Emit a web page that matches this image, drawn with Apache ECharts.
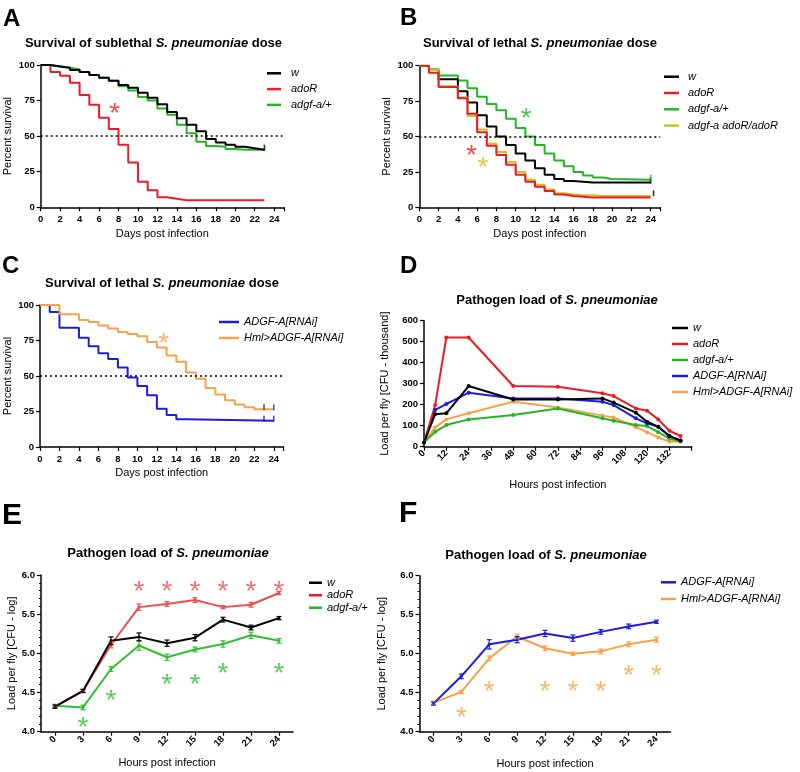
<!DOCTYPE html>
<html><head><meta charset="utf-8">
<script src="https://cdn.jsdelivr.net/npm/echarts/dist/echarts.min.js"></script>
<style>html,body{margin:0;padding:0;background:#fff}#c{width:800px;height:772px}</style>
</head><body><div id="c"></div><script>
// ---------- Panel A: survival, sublethal dose ----------
const aDays  = [0,1,2,3,4,5,6,7,8,9,10,11,12,13,14,15,16,17,18,19,20,21,22,23];
const aW     = [100,99,98,96.5,95,93,91,89,86,84,80.5,77,72.5,67,62.5,58,53.5,48,45.5,44,42.5,41.5,40.5,40.5];
const aAdoR  = [100,95,92.5,87.5,79,72,63,55,44,31.5,18,12,7,6,5,5,5,5,5,5,5,5,5,5];
const aAdgf  = [100,99,98,97,95,93,91,89,85,82,77.5,75,69.5,65,58,52,46,43,42.5,41,40.5,40.5,40.5,40.5];
const aStarRed = [[7.6, 70]];
const aCensorW = [[23, 40.5]];
// ---------- Panel B: survival, lethal dose ----------
const bDays  = [0,1,2,4,5,6,7,8,9,10,11,12,13,14,15,16,17,18,19,20,24];
const bW     = [100,97,90.5,82,74,65,57,50,44,38,33,27.5,23,20,18.5,18,17.5,17.5,17.5,17.5,17.5];
const bAdoR  = [100,95,85,77,66,53,43.5,37,30,23,18,14.5,11.5,9,8,7.5,7,7,7,7,7];
const bAdgf  = [100,97.5,93,89.5,84,78,73,68.5,62.5,56,50,44,38,33,29,25,22.5,21,20,19.5,19.5];
const bDouble= [100,97,85.5,77.5,64.5,55,45,39,32,25,19.5,16,12.5,10,9,8.5,8.5,8,8,8,8];
const bStarGreen = [[11.1, 66.4]];
const bStarRed = [[5.4, 40.5]];
const bStarYellow = [[6.6, 32.2]];
const bCensorW = [[24, 17.5]];
const bCensorGreen = [[24, 19.5]];
const bCensorYellow = [[24.3, 8.5]];
// ---------- Panel C: survival, RNAi ----------
const cDaysBlue = [0,1,2,4,5,6,7,8,9,10,11,12,13,14,15,24];
const cBlue     = [100,95,84,77,71,66,62,56,49,43,36.5,27,22.5,19.5,18.5,18.5];
const cDaysOr   = [0,2,4,5,6,7,8,9,10,11,12,13,14,15,16,17,18,19,20,21,22,24];
const cOrange   = [100,93.5,89.5,88,85.5,83.5,81,79.5,78,74,70,64.5,60,52.5,48,41.5,37,33,30,28,26.5,26.5];
const cStarOrange = [[12.7, 77]];
const cCensorBlue = [[23, 18.5], [24, 18.5]];
const cCensorOr = [[23, 26.5], [24, 26.5]];
// ---------- Panel D: pathogen load (thousand CFU) ----------
const dHours = [0,6,12,24,48,72,96,102,114,120,126,132,138];
const dW     = [20,155,159,289,225,225,230,210,162,119,95,51,29];
const dAdoR  = [20,198,520,520,289,286,254,241,182,171,130,76,51];
const dAdgf  = [20,71,103,130,151,182,135,124,103,98,69,38,26];
const dADGF  = [20,175,203,257,230,230,214,198,135,111,95,51,30];
const dHml   = [20,92,130,159,214,187,148,139,93,69,44,25,24];
// ---------- Panel E: pathogen load (log) ----------
const eHours = ['0','3','6','9','12','15','18','21','24'];
const eW     = [4.32,4.52,5.16,5.21,5.13,5.20,5.43,5.33,5.45];
const eWErr  = [0.02,0.02,0.05,0.05,0.04,0.04,0.03,0.03,0.02];
const eAdoR  = [4.32,4.52,5.11,5.59,5.63,5.68,5.59,5.62,5.77];
const eAdoRErr=[0.02,0.02,0.04,0.04,0.03,0.03,0.02,0.03,0.02];
const eAdgf  = [4.33,4.31,4.80,5.10,4.95,5.05,5.12,5.23,5.16];
const eAdgfErr=[0.02,0.03,0.03,0.06,0.04,0.03,0.04,0.04,0.03];
const eStarRed   = [['9',5.86],['12',5.86],['15',5.86],['18',5.86],['21',5.86],['24',5.86]];
const eStarGreen = [['3',4.13],['6',4.47],['12',4.67],['15',4.67],['18',4.82],['24',4.82]];
// ---------- Panel F: pathogen load (log), RNAi ----------
const fHours = ['0','3','6','9','12','15','18','21','24'];
const fBlue  = [4.36,4.71,5.12,5.18,5.26,5.20,5.28,5.35,5.41];
const fBlueErr=[0.02,0.03,0.06,0.04,0.04,0.04,0.03,0.03,0.02];
const fOr    = [4.37,4.51,4.94,5.22,5.07,5.00,5.03,5.12,5.18];
const fOrErr = [0.02,0.02,0.03,0.03,0.03,0.02,0.03,0.03,0.03];
const fStarOrange = [['3',4.26],['6',4.59],['12',4.59],['15',4.59],['18',4.59],['21',4.79],['24',4.79]];

const FF = "'Liberation Sans', Arial, Helvetica, sans-serif";
const C = {black:'#000000', red:'#ed1c24', green:'#25b525', yellow:'#c8c228', blue:'#1c1ce0', orange:'#f5a34a',
           redE:'#e94f4f', greenE:'#30c030'};

const zip = (xs, ys) => xs.map((x, i) => [x, ys[i]]);

function axisCommon(extra) {
  return Object.assign({
    axisLine: {show: true, onZero: false, lineStyle: {color: '#000', width: 1.5}},
    axisTick: {show: true, length: 4, lineStyle: {color: '#000', width: 1.2}},
    axisLabel: {fontFamily: FF, fontSize: 9.5, fontWeight: 'bold', color: '#000', margin: 6},
    splitLine: {show: false},
    nameTextStyle: {fontFamily: FF, fontSize: 11, color: '#000'},
    nameLocation: 'middle'
  }, extra);
}
function survX(g, gap) {
  return axisCommon({type: 'value', gridIndex: g, min: 0, max: 25, interval: 2,
    name: 'Days post infection', nameGap: gap,
    axisLabel: {fontFamily: FF, fontSize: 9.5, fontWeight: 'bold', color: '#000', margin: 7,
      formatter: v => (v > 24 ? '' : String(v))}});
}
function survY(g) {
  return axisCommon({type: 'value', gridIndex: g, min: 0, max: 100, interval: 25,
    name: 'Percent survival', nameGap: 27});
}
function stepLine(name, data, color, g, withRef) {
  const s = {type: 'line', name, data, step: 'end', xAxisIndex: g, yAxisIndex: g,
    showSymbol: false, symbol: 'none', lineStyle: {color, width: 2}, itemStyle: {color}, z: 3, animation: false};
  if (withRef) {
    s.markLine = {silent: true, symbol: 'none', label: {show: false},
      lineStyle: {color: '#000', type: [2, 3], width: 1.5}, data: [{yAxis: 50}]};
  }
  return s;
}
function censor(data, color, g) {
  return {type: 'scatter', data, xAxisIndex: g, yAxisIndex: g, symbol: 'rect', symbolSize: [1.6, 6],
    symbolOffset: [0, -2], itemStyle: {color}, z: 4, silent: true, animation: false};
}
function stars(data, color, g) {
  return {type: 'scatter', data, xAxisIndex: g, yAxisIndex: g, symbolSize: 1,
    itemStyle: {color: 'rgba(0,0,0,0)'}, z: 5, silent: true, animation: false,
    label: {show: true, position: 'inside', formatter: '*', color, fontSize: 28,
      fontFamily: FF, offset: [0, 6.5]}};
}
function loadLine(name, data, color, g, sym) {
  return {type: 'line', name, data, xAxisIndex: g, yAxisIndex: g, symbol: 'circle', symbolSize: sym || 4,
    showSymbol: true, lineStyle: {color, width: 2}, itemStyle: {color}, z: 3, animation: false};
}
function errBars(vals, errs, color, g) {
  return {type: 'custom', xAxisIndex: g, yAxisIndex: g, silent: true, z: 4, animation: false,
    data: vals.map((v, i) => [i, v, errs[i]]),
    renderItem: (params, api) => {
      const x = api.value(0), y = api.value(1), e = api.value(2);
      const t = api.coord([x, y + e]), b = api.coord([x, y - e]);
      const st = {stroke: color, lineWidth: 1.2};
      return {type: 'group', children: [
        {type: 'line', shape: {x1: t[0], y1: t[1], x2: b[0], y2: b[1]}, style: st},
        {type: 'line', shape: {x1: t[0]-2.5, y1: t[1], x2: t[0]+2.5, y2: t[1]}, style: st},
        {type: 'line', shape: {x1: b[0]-2.5, y1: b[1], x2: b[0]+2.5, y2: b[1]}, style: st}
      ]};
    }};
}
function legend(names, left, top, lh, gap, w, pad) {
  return {data: names, left, top, orient: 'vertical', icon: 'rect', itemWidth: w, itemHeight: 2.5,
    itemGap: gap, selectedMode: false,
    textStyle: {fontFamily: FF, fontSize: 11, fontStyle: 'italic', color: '#000', lineHeight: lh,
      padding: [0, 0, 0, pad]}};
}
function titleText(x, y, pre, it, post, size) {
  return {type: 'text', x, y, silent: true,
    style: {text: pre + '{i|' + it + '}' + post, fontFamily: FF, fontSize: size, fontWeight: 'bold', fill: '#000',
      align: 'center', verticalAlign: 'middle',
      rich: {i: {fontFamily: FF, fontSize: size, fontWeight: 'bold', fontStyle: 'italic', fill: '#000'}}}};
}
function letter(x, y, t, size) {
  return {type: 'text', x, y, silent: true,
    style: {text: t, fontFamily: FF, fontSize: size, fontWeight: 'bold', fill: '#000', align: 'left', verticalAlign: 'top'}};
}

const option = {
  backgroundColor: '#fff',
  animation: false,
  textStyle: {fontFamily: FF},
  grid: [
    {left: 40.7, top: 65, width: 243.2, height: 142.3},
    {left: 419.3, top: 65.7, width: 241, height: 141.6},
    {left: 40, top: 305, width: 243.5, height: 142},
    {left: 424, top: 320.7, width: 267.7, height: 126},
    {left: 41, top: 575, width: 252, height: 156.7},
    {left: 419.5, top: 575.7, width: 251, height: 156}
  ],
  xAxis: [
    survX(0, 21), survX(1, 21), survX(2, 20),
    axisCommon({type: 'value', gridIndex: 3, min: 0, max: 144, interval: 12,
      name: 'Hours post infection', nameGap: 33,
      axisLabel: {fontFamily: FF, fontSize: 9.5, fontWeight: 'bold', color: '#000', margin: 5, rotate: 45,
        formatter: v => (v > 132 ? '' : String(v))}}),
    axisCommon({type: 'category', gridIndex: 4, data: eHours, boundaryGap: true,
      name: 'Hours post infection', nameGap: 26,
      axisTick: {show: true, alignWithLabel: true, length: 4, lineStyle: {color: '#000', width: 1.2}},
      axisLabel: {fontFamily: FF, fontSize: 9.5, fontWeight: 'bold', color: '#000', margin: 6, rotate: 45}}),
    axisCommon({type: 'category', gridIndex: 5, data: fHours, boundaryGap: true,
      name: 'Hours post infection', nameGap: 27,
      axisTick: {show: true, alignWithLabel: true, length: 4, lineStyle: {color: '#000', width: 1.2}},
      axisLabel: {fontFamily: FF, fontSize: 9.5, fontWeight: 'bold', color: '#000', margin: 6, rotate: 45}})
  ],
  yAxis: [
    survY(0), survY(1), survY(2),
    axisCommon({type: 'value', gridIndex: 3, min: 0, max: 600, interval: 100,
      name: 'Load per fly [CFU - thousand]', nameGap: 34}),
    axisCommon({type: 'value', gridIndex: 4, min: 4, max: 6, interval: 0.5,
      name: 'Load per fly [CFU - log]', nameGap: 24,
      minorTick: {show: true, splitNumber: 5, length: 2, lineStyle: {color: '#000'}},
      axisLabel: {fontFamily: FF, fontSize: 9.5, fontWeight: 'bold', color: '#000', margin: 6, formatter: v => v.toFixed(1)}}),
    axisCommon({type: 'value', gridIndex: 5, min: 4, max: 6, interval: 0.5,
      name: 'Load per fly [CFU - log]', nameGap: 32,
      minorTick: {show: true, splitNumber: 5, length: 2, lineStyle: {color: '#000'}},
      axisLabel: {fontFamily: FF, fontSize: 9.5, fontWeight: 'bold', color: '#000', margin: 6, formatter: v => v.toFixed(1)}})
  ],
  legend: [
    legend(['w', 'adoR', 'adgf-a/+'], 262, 61.8, 13, 2.8, 14, 5),
    legend(['w', 'adoR', 'adgf-a/+', 'adgf-a adoR/adoR'], 659, 65.2, 13, 3.3, 15, 4),
    legend(['ADGF-A[RNAi]', 'Hml>ADGF-A[RNAi]'], 214, 310.5, 13, 3, 20, 0),
    legend(['w', 'adoR', 'adgf-a/+', 'ADGF-A[RNAi]', 'Hml>ADGF-A[RNAi]'], 667, 316.5, 13, 3, 16, 0),
    legend(['w', 'adoR', 'adgf-a/+'], 304, 571.5, 12.5, 0, 13, 0),
    legend(['ADGF-A[RNAi]', 'Hml>ADGF-A[RNAi]'], 656, 570.8, 13, 3.7, 15, 0)
  ],
  graphic: [
    letter(3, 7, 'A', 24), letter(400, 6, 'B', 24), letter(2, 254, 'C', 24), letter(400, 254, 'D', 24),
    letter(2, 501, 'E', 30), letter(399, 499, 'F', 30),
    titleText(153.5, 43, 'Survival of sublethal ', 'S. pneumoniae', ' dose', 13),
    titleText(540, 43, 'Survival of lethal ', 'S. pneumoniae', ' dose', 13),
    titleText(162, 283, 'Survival of lethal ', 'S. pneumoniae', ' dose', 13),
    titleText(557, 300, 'Pathogen load of ', 'S. pneumoniae', '', 13),
    titleText(168, 553, 'Pathogen load of ', 'S. pneumoniae', '', 13),
    titleText(546, 555, 'Pathogen load of ', 'S. pneumoniae', '', 13)
  ],
  series: [
    // A
    stepLine('adoR', zip(aDays, aAdoR), C.red, 0, true),
    stepLine('adgf-a/+', zip(aDays, aAdgf), C.green, 0),
    stepLine('w', zip(aDays, aW), C.black, 0),
    censor(aCensorW, C.black, 0),
    stars(aStarRed, C.red, 0),
    // B
    stepLine('adgf-a/+', zip(bDays, bAdgf), C.green, 1, true),
    stepLine('w', zip(bDays, bW), C.black, 1),
    stepLine('adgf-a adoR/adoR', zip(bDays, bDouble), C.yellow, 1),
    stepLine('adoR', zip(bDays, bAdoR), C.red, 1),
    censor(bCensorW, C.black, 1), censor(bCensorGreen, C.green, 1), censor(bCensorYellow, C.black, 1),
    stars(bStarGreen, C.green, 1), stars(bStarRed, C.red, 1), stars(bStarYellow, C.yellow, 1),
    // C
    stepLine('ADGF-A[RNAi]', zip(cDaysBlue, cBlue), C.blue, 2, true),
    stepLine('Hml>ADGF-A[RNAi]', zip(cDaysOr, cOrange), C.orange, 2),
    censor(cCensorBlue, C.blue, 2), censor(cCensorOr, '#333', 2),
    stars(cStarOrange, C.orange, 2),
    // D
    loadLine('Hml>ADGF-A[RNAi]', zip(dHours, dHml), C.orange, 3),
    loadLine('adgf-a/+', zip(dHours, dAdgf), C.green, 3),
    loadLine('ADGF-A[RNAi]', zip(dHours, dADGF), C.blue, 3),
    loadLine('adoR', zip(dHours, dAdoR), C.red, 3),
    loadLine('w', zip(dHours, dW), C.black, 3),
    // E
    loadLine('adgf-a/+', eAdgf, C.greenE, 4, 3),
    loadLine('adoR', eAdoR, C.redE, 4, 3),
    loadLine('w', eW, C.black, 4, 3),
    errBars(eAdgf, eAdgfErr, C.greenE, 4), errBars(eAdoR, eAdoRErr, C.redE, 4), errBars(eW, eWErr, C.black, 4),
    stars(eStarRed, C.redE, 4), stars(eStarGreen, C.greenE, 4),
    // F
    loadLine('Hml>ADGF-A[RNAi]', fOr, C.orange, 5, 3),
    loadLine('ADGF-A[RNAi]', fBlue, C.blue, 5, 3),
    errBars(fOr, fOrErr, C.orange, 5), errBars(fBlue, fBlueErr, C.blue, 5),
    stars(fStarOrange, C.orange, 5)
  ]
};
const chart = echarts.init(document.getElementById('c'), null, {renderer: 'canvas'});
chart.setOption(option);
</script></body></html>
